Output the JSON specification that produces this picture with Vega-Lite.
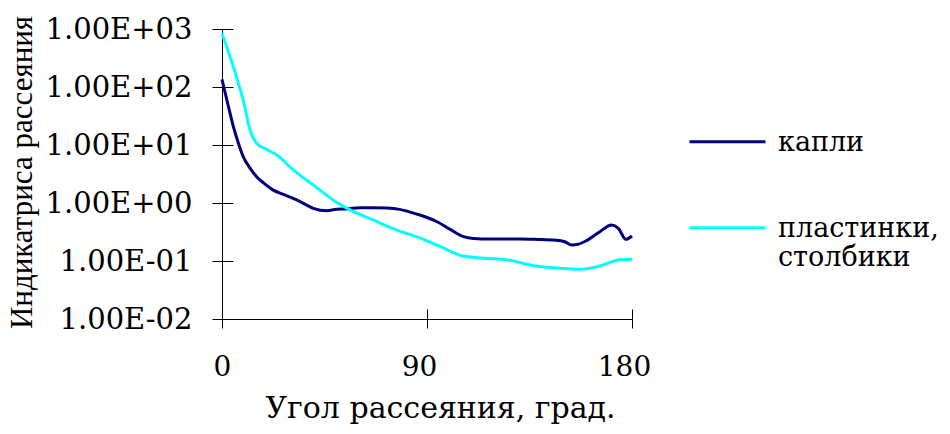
{
  "$schema": "https://vega.github.io/schema/vega-lite/v6.json",
  "width": 410,
  "height": 290,
  "autosize": {"type": "none"},
  "padding": {"left": 222, "top": 29, "right": 318, "bottom": 115},
  "background": "white",
  "config": {"view": {"stroke": null}, "font": "DejaVu Serif"},
  "data": {
    "values": [
      {"series": "капли", "angle": 0, "value": 135},
      {"series": "капли", "angle": 2.5, "value": 52},
      {"series": "капли", "angle": 5, "value": 20.7},
      {"series": "капли", "angle": 7.2, "value": 10.7},
      {"series": "капли", "angle": 9.3, "value": 6.3},
      {"series": "капли", "angle": 12.3, "value": 4.0},
      {"series": "капли", "angle": 15.2, "value": 2.84},
      {"series": "капли", "angle": 18.1, "value": 2.24},
      {"series": "капли", "angle": 22.5, "value": 1.67},
      {"series": "капли", "angle": 26.9, "value": 1.41},
      {"series": "капли", "angle": 32.8, "value": 1.13},
      {"series": "капли", "angle": 37.2, "value": 0.92},
      {"series": "капли", "angle": 40.1, "value": 0.81},
      {"series": "капли", "angle": 46, "value": 0.736},
      {"series": "капли", "angle": 50.3, "value": 0.78},
      {"series": "капли", "angle": 54.7, "value": 0.79},
      {"series": "капли", "angle": 60.6, "value": 0.83},
      {"series": "капли", "angle": 66, "value": 0.83},
      {"series": "капли", "angle": 72.3, "value": 0.82},
      {"series": "капли", "angle": 78, "value": 0.776},
      {"series": "капли", "angle": 83, "value": 0.69},
      {"series": "капли", "angle": 86.9, "value": 0.62},
      {"series": "капли", "angle": 94.2, "value": 0.48},
      {"series": "капли", "angle": 100, "value": 0.355},
      {"series": "капли", "angle": 106, "value": 0.263},
      {"series": "капли", "angle": 110.3, "value": 0.245},
      {"series": "капли", "angle": 117.6, "value": 0.24},
      {"series": "капли", "angle": 130.8, "value": 0.24},
      {"series": "капли", "angle": 140, "value": 0.234},
      {"series": "капли", "angle": 146.9, "value": 0.229},
      {"series": "капли", "angle": 150.5, "value": 0.215},
      {"series": "капли", "angle": 153.5, "value": 0.189},
      {"series": "капли", "angle": 156.4, "value": 0.195},
      {"series": "капли", "angle": 160, "value": 0.224},
      {"series": "капли", "angle": 165.9, "value": 0.32},
      {"series": "капли", "angle": 171, "value": 0.417},
      {"series": "капли", "angle": 174, "value": 0.366},
      {"series": "капли", "angle": 177.3, "value": 0.237},
      {"series": "капли", "angle": 180, "value": 0.27},
      {"series": "пластинки, столбики", "angle": 0, "value": 850},
      {"series": "пластинки, столбики", "angle": 2.5, "value": 437},
      {"series": "пластинки, столбики", "angle": 5, "value": 224},
      {"series": "пластинки, столбики", "angle": 7.2, "value": 115},
      {"series": "пластинки, столбики", "angle": 9.3, "value": 59.7},
      {"series": "пластинки, столбики", "angle": 12.3, "value": 18.2},
      {"series": "пластинки, столбики", "angle": 15.2, "value": 10.7},
      {"series": "пластинки, столбики", "angle": 19.6, "value": 8.4},
      {"series": "пластинки, столбики", "angle": 24, "value": 6.76},
      {"series": "пластинки, столбики", "angle": 31.3, "value": 3.72},
      {"series": "пластинки, столбики", "angle": 40.1, "value": 2.04},
      {"series": "пластинки, столбики", "angle": 48.9, "value": 1.12},
      {"series": "пластинки, столбики", "angle": 56.2, "value": 0.76},
      {"series": "пластинки, столбики", "angle": 66.4, "value": 0.51},
      {"series": "пластинки, столбики", "angle": 76.7, "value": 0.342},
      {"series": "пластинки, столбики", "angle": 86.9, "value": 0.25},
      {"series": "пластинки, столбики", "angle": 95.7, "value": 0.178},
      {"series": "пластинки, столбики", "angle": 104.5, "value": 0.126},
      {"series": "пластинки, столбики", "angle": 114.7, "value": 0.112},
      {"series": "пластинки, столбики", "angle": 125, "value": 0.105},
      {"series": "пластинки, столбики", "angle": 136.7, "value": 0.083},
      {"series": "пластинки, столбики", "angle": 148.4, "value": 0.075},
      {"series": "пластинки, столбики", "angle": 157.2, "value": 0.072},
      {"series": "пластинки, столбики", "angle": 165.9, "value": 0.082},
      {"series": "пластинки, столбики", "angle": 174.7, "value": 0.105},
      {"series": "пластинки, столбики", "angle": 180, "value": 0.107}
    ]
  },
  "layer": [
    {
      "mark": {"type": "line", "strokeWidth": 3, "interpolate": "monotone"},
      "encoding": {
        "x": {
          "field": "angle", "type": "quantitative",
          "scale": {"domain": [0, 180], "nice": false},
          "axis": {
            "orient": "bottom", "values": [0, 90, 180], "grid": false,
            "domainColor": "black", "tickColor": "black", "tickSize": 9,
            "labelFont": "DejaVu Serif", "labelFontSize": 28, "labelColor": "black",
            "labelPadding": 25, "labelFlush": false,
            "labelOffset": {"condition": {"test": "datum.value == 0", "value": 0}, "value": -8},
            "title": "Угол рассеяния, град.", "titleFont": "DejaVu Serif", "titleFontSize": 30,
            "titleFontWeight": "normal", "titleColor": "black",
            "titleX": 218, "titleY": 98, "titleAlign": "center", "titleBaseline": "alphabetic"
          }
        },
        "y": {
          "field": "value", "type": "quantitative",
          "scale": {"type": "log", "domain": [0.01, 1000], "nice": false},
          "axis": {
            "orient": "left", "values": [0.01, 0.1, 1, 10, 100, 1000], "grid": false,
            "domainColor": "black", "tickColor": "black", "tickSize": 10,
            "labelFont": "DejaVu Serif", "labelFontSize": 29, "labelColor": "black",
            "labelPadding": 20,
            "labelExpr": "'1.00E' + (round(log(datum.value)/LN10) >= 0 ? '+' : '-') + '0' + abs(round(log(datum.value)/LN10))",
            "title": "Индикатриса рассеяния", "titleFont": "Liberation Serif", "titleFontSize": 31,
            "titleFontWeight": "normal", "titleColor": "black",
            "titleAngle": -90, "titleX": -200, "titleY": 143, "titleAlign": "center", "titleBaseline": "middle"
          }
        },
        "color": {
          "field": "series", "type": "nominal",
          "scale": {"domain": ["капли", "пластинки, столбики"], "range": ["#000080", "#00FFFF"]},
          "legend": {
            "orient": "none", "legendX": 466, "legendY": 61, "title": null, "padding": 0,
            "symbolType": "M-1,0.32H1", "symbolSize": 5776, "symbolStrokeWidth": 3,
            "symbolFillColor": "transparent",
            "labelFont": "DejaVu Serif", "labelFontSize": 27, "labelColor": "black",
            "labelBaseline": "top", "labelOffset": 11, "rowPadding": 20, "labelLimit": 300,
            "labelLineHeight": 35,
            "labelExpr": "datum.label == 'пластинки, столбики' ? ['пластинки,', 'столбики'] : datum.label"
          }
        }
      }
    },
    {
      "mark": {"type": "line", "opacity": 0},
      "encoding": {
        "x": {
          "field": "angle", "type": "quantitative",
          "axis": {"orient": "bottom", "values": [0, 90, 180], "grid": false, "domain": false,
                   "labels": false, "title": null, "tickColor": "black", "tickSize": -10}
        },
        "y": {
          "field": "value", "type": "quantitative",
          "axis": {"orient": "left", "values": [0.01, 0.1, 1, 10, 100, 1000], "grid": false, "domain": false,
                   "labels": false, "title": null, "tickColor": "black", "tickSize": -11}
        }
      }
    }
  ],
  "resolve": {"axis": {"x": "independent", "y": "independent"}}
}
